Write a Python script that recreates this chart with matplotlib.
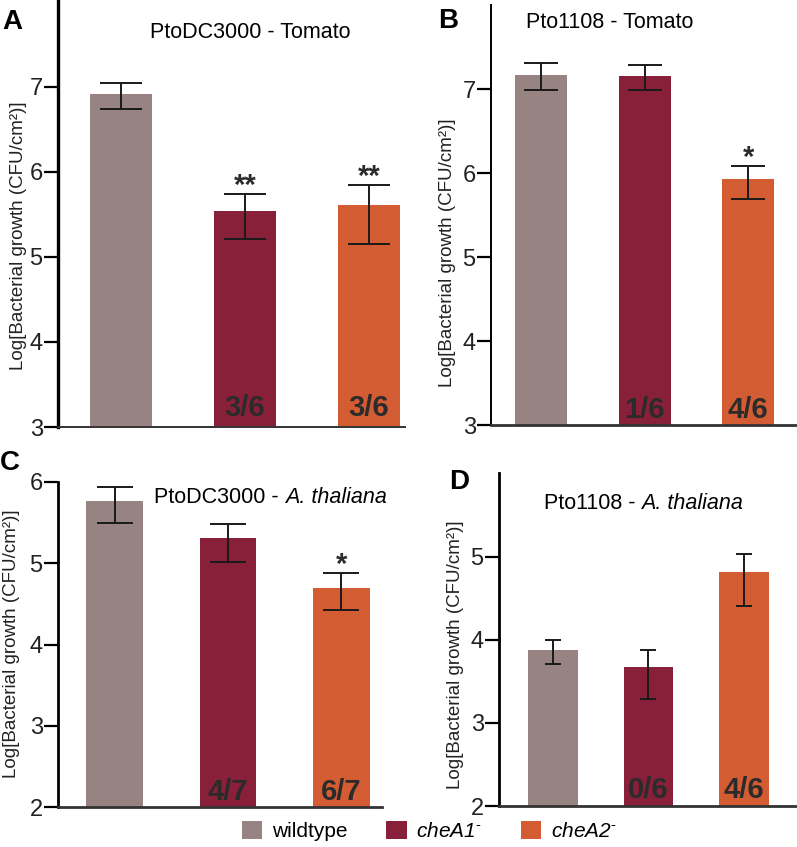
import numpy as np
import matplotlib
matplotlib.use("Agg")
import matplotlib.pyplot as plt
from matplotlib.patches import Patch

plt.rcParams['font.family'] = ['Liberation Sans', 'DejaVu Sans']
plt.rcParams['mathtext.fontset'] = 'custom'
plt.rcParams['mathtext.rm'] = 'Liberation Sans'
plt.rcParams['mathtext.it'] = 'Liberation Sans:italic'

# -----------------------------
# Dados
# -----------------------------
grupos = ['wildtype', 'cheA1', 'cheA2']
cores = ['#978482', '#872038', '#d45c33']

a_media = [6.92, 5.54, 5.61]
a_baixo = [6.74, 5.21, 5.15]
a_alto = [7.05, 5.74, 5.84]
a_contagem = ['', '3/6', '3/6']
a_estrelas = ['', '**', '**']

b_media = [7.17, 7.15, 5.93]
b_baixo = [6.99, 6.99, 5.69]
b_alto = [7.31, 7.28, 6.08]
b_contagem = ['', '1/6', '4/6']
b_estrelas = ['', '', '*']

c_media = [5.77, 5.31, 4.69]
c_baixo = [5.49, 5.02, 4.42]
c_alto = [5.94, 5.48, 4.88]
c_contagem = ['', '4/7', '6/7']
c_estrelas = ['', '', '*']

d_media = [3.88, 3.67, 4.82]
d_baixo = [3.71, 3.29, 4.41]
d_alto = [4.00, 3.88, 5.03]
d_contagem = ['', '0/6', '4/6']
d_estrelas = ['', '', '']

W, H = 797, 847
fig = plt.figure(figsize=(W / 100, H / 100), dpi=100)


def eixo_px(x0, y0, x1, y1):
    return fig.add_axes([x0 / W, 1 - y1 / H, (x1 - x0) / W, (y1 - y0) / H])


def painel(ax, media, baixo, alto, contagem, estrelas, ylim, xlim, yticks,
           largura, cap, lw_esq, lw_base, dy_cont):
    x = np.arange(len(grupos))
    media = np.array(media)
    ax.bar(x, media - ylim[0], bottom=ylim[0], width=largura, color=cores, zorder=1)
    yerr = [media - np.array(baixo), np.array(alto) - media]
    ax.errorbar(x, media, yerr=yerr, fmt='none', ecolor='#1a1a1a',
                elinewidth=1.4, capsize=cap, capthick=1.4, zorder=3)
    for i in range(len(grupos)):
        if contagem[i]:
            ax.annotate(contagem[i], xy=(x[i], ylim[0]), xytext=(0, dy_cont),
                        textcoords='offset points', ha='center', va='baseline',
                        fontsize=21, fontweight='bold', color='#2b2b2b')
        if estrelas[i]:
            ax.annotate(estrelas[i], xy=(x[i], alto[i]), xytext=(0, 0),
                        textcoords='offset points', ha='center', va='baseline',
                        fontsize=21, fontweight='bold', color='#2b2b2b')
    ax.set_ylim(*ylim)
    ax.set_xlim(*xlim)
    ax.set_yticks(yticks)
    ax.set_xticks([])
    ax.tick_params(axis='y', length=10, width=1.6, labelsize=17, pad=1,
                   labelcolor='#222222')
    for s in ['top', 'right']:
        ax.spines[s].set_visible(False)
    ax.spines['left'].set_linewidth(lw_esq)
    ax.spines['bottom'].set_linewidth(lw_base)
    ax.spines['bottom'].set_color('#333333')
    ax.patch.set_alpha(0)


axA = eixo_px(58, 0, 405, 427)
painel(axA, a_media, a_baixo, a_alto, a_contagem, a_estrelas,
       (3, 8.02), (-0.508, 2.29), [3, 4, 5, 6, 7], 0.5, 15, 2.4, 1.4, 8)
axB = eixo_px(491, 5, 797, 425)
painel(axB, b_media, b_baixo, b_alto, b_contagem, b_estrelas,
       (3, 8.0), (-0.483, 2.47), [3, 4, 5, 6, 7], 0.5, 12, 1.4, 2.0, 5)
axC = eixo_px(58, 482, 382, 807)
painel(axC, c_media, c_baixo, c_alto, c_contagem, c_estrelas,
       (2, 6), (-0.498, 2.357), [2, 3, 4, 5, 6], 0.5, 13, 2.0, 2.0, 5)
axD = eixo_px(499, 473, 797, 806)
painel(axD, d_media, d_baixo, d_alto, d_contagem, d_estrelas,
       (2, 6.01), (-0.565, 2.555), [2, 3, 4, 5], 0.52, 5.5, 2.0, 2.0, 6)

# rótulos do eixo y
ylab = 'Log[Bacterial growth (CFU/cm²)]'
for (xp, yp) in [(19, 236), (448, 253), (12, 644), (455, 655)]:
    fig.text(xp / W, 1 - yp / H, ylab, rotation=90, ha='center', va='center',
             fontsize=13.5, color='#222222')

# títulos
fig.text(250 / W, 1 - 33 / H, 'PtoDC3000 - Tomato', ha='center', va='center', fontsize=15.5)
fig.text(610 / W, 1 - 22 / H, 'Pto1108 - Tomato', ha='center', va='center', fontsize=15.5)
for xp, yp, parte in [(154, 497, 'PtoDC3000 - '), (544, 503, 'Pto1108 - ')]:
    t = fig.text(xp / W, 1 - yp / H, parte, ha='left', va='baseline', fontsize=15.5)
    t.set_y(1 - (yp + 6) / H)
    axA.annotate('A. thaliana', xy=(1, 0), xycoords=t, ha='left', va='bottom',
                 fontsize=15.5, style='italic', annotation_clip=False)

# letras dos painéis
for letra, xp, yp in [('A', 12, 22), ('B', 448, 21), ('C', 10, 463), ('D', 459, 482)]:
    fig.text(xp / W, 1 - yp / H, letra, ha='center', va='center', fontsize=20, fontweight='bold')

# legenda
rotulos = [grupos[0]] + [g + r'$^{\text{-}}$' for g in grupos[1:]]
handles = [Patch(facecolor=c, edgecolor='none') for c in cores]
leg = fig.legend(handles, rotulos, loc='center', bbox_to_anchor=(429 / W, 1 - 831 / H),
                 ncol=3, frameon=False, fontsize=15, handlelength=1.0, handleheight=1.0,
                 handletextpad=0.45, columnspacing=1.86, borderpad=0)
for txt in leg.get_texts()[1:]:
    txt.set_style('italic')

fig.savefig('out.png', dpi=100)
